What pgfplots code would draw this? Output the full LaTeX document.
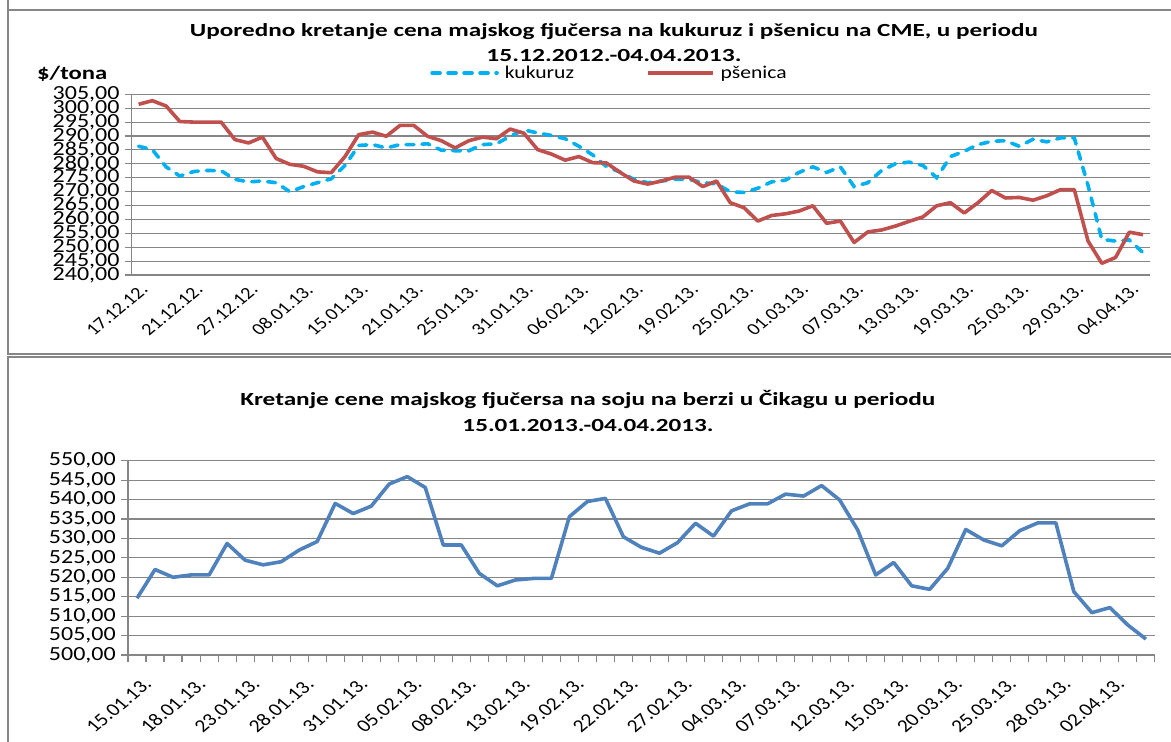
\documentclass[border=0pt]{standalone}
\usepackage{pgfplots}
\pgfplotsset{compat=1.18}
\usepackage{fontspec}
\setmainfont{Carlito}
\usepackage{graphicx}
\definecolor{gridc}{RGB}{134,134,134}
\definecolor{wheat}{RGB}{192,80,77}
\definecolor{corn}{RGB}{0,176,240}
\definecolor{soy}{RGB}{79,129,189}
\newcommand{\sx}[1]{\scalebox{1.2}[1]{#1}}

\pgfplotstableread{
i kuk pse
0 286.3 301.4
1 285.1 302.7
2 278.9 300.8
3 275.6 295.2
4 277.2 295.0
5 277.6 295.0
6 277.5 295.0
7 274.4 288.7
8 273.5 287.5
9 273.8 289.6
10 273.2 281.9
11 269.9 279.8
12 271.8 279.1
13 273.2 277.1
14 274.6 276.8
15 279.4 282.6
16 286.6 290.5
17 286.9 291.4
18 285.7 289.9
19 286.9 293.8
20 286.9 293.8
21 287.2 289.9
22 284.9 288.3
23 284.7 285.7
24 284.7 288.3
25 286.9 289.6
26 287.2 289.0
27 289.9 292.5
28 292.2 291.0
29 291.1 285.1
30 290.2 283.5
31 289.0 281.3
32 286.3 282.6
33 283.2 280.4
34 279.0 280.3
35 277.0 276.9
36 274.4 273.8
37 273.2 272.7
38 273.8 273.8
39 274.4 275.2
40 274.4 275.2
41 273.2 271.8
42 272.8 273.8
43 269.9 266.0
44 269.7 264.2
45 271.2 259.4
46 273.5 261.4
47 274.1 262.0
48 276.9 263.0
49 278.9 264.9
50 276.9 258.6
51 278.9 259.4
52 271.8 251.7
53 273.2 255.5
54 277.6 256.2
55 280.0 257.6
56 280.6 259.3
57 279.4 260.9
58 275.0 264.9
59 282.6 266.0
60 284.5 262.3
61 286.9 266.0
62 288.1 270.4
63 288.3 267.7
64 286.3 267.9
65 288.8 266.9
66 287.9 268.5
67 289.3 270.7
68 289.3 270.7
69 272.2 252.2
70 252.8 244.2
71 252.2 246.3
72 252.6 255.4
73 248.0 254.5
}\topdata

\pgfplotstableread{
i soja
0 514.6
1 522.0
2 520.0
3 520.6
4 520.6
5 528.7
6 524.4
7 523.2
8 524.0
9 527.0
10 529.2
11 539.0
12 536.4
13 538.3
14 544.0
15 545.9
16 543.1
17 528.3
18 528.3
19 521.0
20 517.8
21 519.3
22 519.7
23 519.7
24 535.6
25 539.5
26 540.3
27 530.4
28 527.7
29 526.2
30 528.9
31 533.9
32 530.6
33 537.1
34 538.9
35 538.9
36 541.4
37 540.9
38 543.6
39 539.9
40 532.2
41 520.6
42 523.8
43 517.8
44 516.9
45 522.3
46 532.3
47 529.6
48 528.1
49 532.0
50 534.0
51 534.0
52 516.3
53 510.9
54 512.2
55 507.7
56 504.1
}\soydata

\pgfplotsset{
  myaxis/.style={
    scale only axis,
    anchor=south west,
    axis x line*=bottom, axis y line*=left,
    axis line style={-, draw=gridc, line width=1.3pt},
    ymajorgrids, major grid style={gridc, line width=1.1pt},
    tick align=outside, major tick length=7pt,
    ytick style={gridc, line width=1.1pt},
    yticklabel style={font=\fontsize{20}{20}\selectfont, anchor=east, inner sep=0pt, xshift=-5pt},
    xticklabel style={font=\fontsize{17}{17}\selectfont, cm={0.849,0.707,-0.849,0.707,(0,0)}, anchor=east, inner sep=0pt},
  },
}

\begin{document}
\begin{tikzpicture}[x=1pt,y=1pt]
\useasboundingbox (0,0) rectangle (1171,742);
\clip (0,0) rectangle (1171,742);
% frames
\draw[gridc, line width=2pt] (8,800) -- (8,732) -- (1200,732);
\draw[gridc, line width=2pt] (8,732) -- (8,388) -- (1200,388);
\draw[gridc, line width=2pt] (1200,385) -- (8,385) -- (8,-20);

% titles
\node[anchor=base, inner sep=0pt] at (614,705) {\fontsize{18.5}{20}\selectfont\bfseries\resizebox{848pt}{\height}{Uporedno kretanje cena majskog fjučersa na kukuruz i pšenicu na CME, u periodu}};
\node[anchor=base, inner sep=0pt] at (614,680.5) {\fontsize{18.5}{20}\selectfont\bfseries\resizebox{255pt}{\height}{15.12.2012.-04.04.2013.}};
\node[anchor=base west, inner sep=0pt] at (37,662) {\fontsize{19}{20}\selectfont\bfseries\resizebox{70pt}{\height}{\$/tona}};
\node[anchor=base, inner sep=0pt] at (588,336) {\fontsize{18.5}{20}\selectfont\bfseries\resizebox{695pt}{\height}{Kretanje cene majskog fjučersa na soju na berzi u Čikagu u periodu}};
\node[anchor=base, inner sep=0pt] at (588,310) {\fontsize{18.5}{20}\selectfont\bfseries\resizebox{251pt}{\height}{15.01.2013.-04.04.2013.}};

\begin{axis}[myaxis,
  at={(131.7pt,467pt)}, width=1018.3pt, height=180.7pt,
  xmin=-0.5, xmax=73.5, ymin=240, ymax=305,
  ytick={240,245,...,305},
  yticklabels={{\sx{240,00}},{\sx{245,00}},{\sx{250,00}},{\sx{255,00}},{\sx{260,00}},{\sx{265,00}},{\sx{270,00}},{\sx{275,00}},{\sx{280,00}},{\sx{285,00}},{\sx{290,00}},{\sx{295,00}},{\sx{300,00}},{\sx{305,00}}},
  xtick={0,4,...,72},
  xticklabels={17.12.12.,21.12.12.,27.12.12.,08.01.13.,15.01.13.,21.01.13.,25.01.13.,31.01.13.,06.02.13.,12.02.13.,19.02.13.,25.02.13.,01.03.13.,07.03.13.,13.03.13.,19.03.13.,25.03.13.,29.03.13.,04.04.13.},
  xtick style={draw=none},
  xticklabel style={yshift=-7pt},
  legend style={at={(0.293,1.118)}, anchor=west, draw=none, fill=none, inner sep=0pt,
    legend columns=2, font=\fontsize{18}{18}\selectfont,
    /tikz/every odd column/.append style={column sep=4pt},
    /tikz/every even column/.append style={column sep=70pt}},
  legend image code/.code={\draw[#1] (0pt,0pt) -- (65pt,0pt);},
]
\addplot[corn, line width=3.6pt, dash pattern=on 8pt off 8pt, line cap=round] table[x=i, y=kuk] {\topdata};
\addlegendentry{\sx{kukuruz}}
\addplot[wheat, line width=3.6pt, line join=round] table[x=i, y=pse] {\topdata};
\addlegendentry{\sx{pšenica}}
\end{axis}

\begin{axis}[myaxis,
  at={(128pt,87pt)}, width=1027pt, height=194.3pt,
  xmin=-0.5, xmax=56.5, ymin=500, ymax=550,
  ytick={500,505,...,550},
  yticklabels={{\sx{500,00}},{\sx{505,00}},{\sx{510,00}},{\sx{515,00}},{\sx{520,00}},{\sx{525,00}},{\sx{530,00}},{\sx{535,00}},{\sx{540,00}},{\sx{545,00}},{\sx{550,00}}},
  xtick={-0.5,0.5,...,56.5}, xticklabel=\empty,
  xtick style={gridc, line width=1.1pt},
  extra x ticks={0,3,...,54},
  extra x tick labels={15.01.13.,18.01.13.,23.01.13.,28.01.13.,31.01.13.,05.02.13.,08.02.13.,13.02.13.,19.02.13.,22.02.13.,27.02.13.,04.03.13.,07.03.13.,12.03.13.,15.03.13.,20.03.13.,25.03.13.,28.03.13.,02.04.13.},
  extra x tick style={tick style={draw=none}, xticklabel style={font=\fontsize{18}{18}\selectfont, xshift=-7pt, yshift=-20pt}},
]
\addplot[soy, line width=3.6pt, line join=round] table[x=i, y=soja] {\soydata};
\end{axis}
\end{tikzpicture}
\end{document}
